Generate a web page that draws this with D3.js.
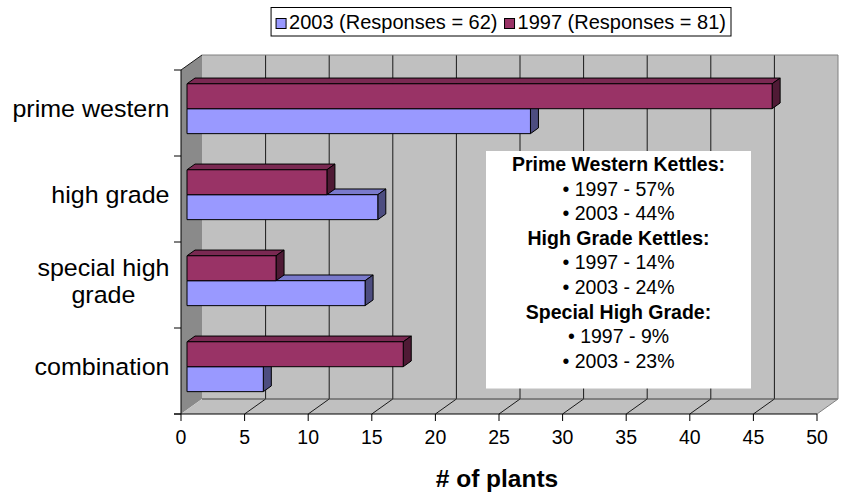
<!DOCTYPE html>
<html>
<head>
<meta charset="utf-8">
<script src="https://cdn.jsdelivr.net/npm/d3@7"></script>
<style>
  html, body { margin: 0; padding: 0; background: #fff; }
  svg { display: block; }
  text { font-family: "Liberation Sans", Arial, sans-serif; fill: #000; }
</style>
</head>
<body>
<div id="chart"></div>
<script>
// Kettle types used by plants, two survey years
const categories = ["prime western", "high grade", "special high grade", "combination"];
const categoryLines = [["prime western"], ["high grade"], ["special high", "grade"], ["combination"]];
const seriesNames = ["2003 (Responses = 62)", "1997 (Responses = 81)"];
const values2003 = [27, 15, 14, 6];
const values1997 = [46, 11, 7, 17];
const xTicks = [0, 5, 10, 15, 20, 25, 30, 35, 40, 45, 50];
const noteLines = [
  { text: "Prime Western Kettles:", bold: true },
  { text: "• 1997 - 57%", bold: false },
  { text: "• 2003 - 44%", bold: false },
  { text: "High Grade Kettles:", bold: true },
  { text: "• 1997 - 14%", bold: false },
  { text: "• 2003 - 24%", bold: false },
  { text: "Special High Grade:", bold: true },
  { text: "• 1997 - 9%", bold: false },
  { text: "• 2003 - 23%", bold: false }
];

const W = 844, H = 494;
const svg = d3.select("#chart").append("svg").attr("width", W).attr("height", H);

// front plane of the 3-D box
const x = d3.scaleLinear().domain([0, 50]).range([181, 817]);
const yTop = 70, yBot = 414;
const y = d3.scaleBand().domain(categories).range([yTop, yBot]).paddingInner(0.42).paddingOuter(0.21);
const ySub = d3.scaleBand().domain(["1997", "2003"]).range([0, y.bandwidth()]);

// depth offset of the back plane
const DX = 21, DY = -15;
const P = (v, yy, d) => [x(v) + d * DX, yy + d * DY];
const poly = pts => "M" + pts.map(p => p.join(",")).join("L") + "Z";
const line = (a, b) => "M" + a.join(",") + "L" + b.join(",");

const xMax = 50;

// side wall
svg.append("path")
  .attr("d", poly([P(0, yTop, 0), P(0, yTop, 1), P(0, yBot, 1), P(0, yBot, 0)]))
  .attr("fill", "#8a8a8a");
// back wall
svg.append("path")
  .attr("d", poly([P(0, yTop, 1), P(xMax, yTop, 1), P(xMax, yBot, 1), P(0, yBot, 1)]))
  .attr("fill", "#c0c0c0");
// floor
svg.append("path")
  .attr("d", poly([P(0, yBot, 0), P(xMax, yBot, 0), P(xMax, yBot, 1), P(0, yBot, 1)]))
  .attr("fill", "#c0c0c0");

// gridlines on back wall and floor
const grid = svg.append("g").attr("fill", "none");
xTicks.filter(t => t > 0 && t < xMax).forEach(t => {
  grid.append("path").attr("d", line(P(t, yTop, 1), P(t, yBot, 1))).attr("stroke", "#1a1a1a").attr("stroke-width", 1);
  grid.append("path").attr("d", line(P(t, yBot, 0), P(t, yBot, 1))).attr("stroke", "#1a1a1a").attr("stroke-width", 1);
});
grid.append("path").attr("d", line(P(0, yBot, 1), P(xMax, yBot, 1))).attr("stroke", "#404040");
// outer edges
grid.append("path").attr("d", line(P(0, yTop, 1), P(xMax, yTop, 1))).attr("stroke", "#808080");
grid.append("path").attr("d", line(P(xMax, yTop, 1), P(xMax, yBot, 1))).attr("stroke", "#808080");
grid.append("path").attr("d", line(P(xMax, yBot, 0), P(xMax, yBot, 1))).attr("stroke", "#808080");
grid.append("path").attr("d", line(P(0, yTop, 0), P(0, yTop, 1))).attr("stroke", "#1a1a1a");

// note box
const box = svg.append("g");
box.append("rect").attr("x", 486).attr("y", 151).attr("width", 265).attr("height", 237.5).attr("fill", "#fff");
box.selectAll("text").data(noteLines).join("text")
  .attr("x", 618.5)
  .attr("y", (d, i) => 171 + i * 24.6)
  .attr("text-anchor", "middle")
  .style("font-size", "19.5px")
  .style("font-weight", d => d.bold ? "bold" : "normal")
  .text(d => d.text);

// bars
const f0 = 0.286, f1 = 0.667;
const colors = {
  "1997": { front: "#993366", top: "#7a2952", side: "#4f1a35" },
  "2003": { front: "#9999ff", top: "#7a7acc", side: "#4d4d80" }
};
const barData = [];
categories.slice().reverse().forEach(c => {
  const i = categories.indexOf(c);
  barData.push({ cat: c, s: "2003", v: values2003[i] });
  barData.push({ cat: c, s: "1997", v: values1997[i] });
});
const bars = svg.append("g").attr("stroke", "#000").attr("stroke-width", 1).attr("stroke-linejoin", "round");
barData.forEach(b => {
  const t = y(b.cat) + ySub(b.s), bt = t + ySub.bandwidth();
  const g = bars.append("g");
  g.append("path").attr("d", poly([P(0, t, f0), P(b.v, t, f0), P(b.v, t, f1), P(0, t, f1)])).attr("fill", colors[b.s].top);
  g.append("path").attr("d", poly([P(b.v, t, f0), P(b.v, t, f1), P(b.v, bt, f1), P(b.v, bt, f0)])).attr("fill", colors[b.s].side);
  g.append("path").attr("d", poly([P(0, t, f0), P(b.v, t, f0), P(b.v, bt, f0), P(0, bt, f0)])).attr("fill", colors[b.s].front);
});

// axes
const axes = svg.append("g").attr("stroke", "#000").attr("fill", "none");
axes.append("path").attr("d", line([x(0), yTop], [x(0), yBot]));
axes.append("path").attr("d", line([x(0) - 7, yBot], [x(xMax), yBot]));
[yTop].concat(categories.map(c => y(c) - y.step() * y.paddingInner() / 2 + y.step()))
  .forEach(v => axes.append("path").attr("d", line([x(0) - 7, v], [x(0), v])));
xTicks.forEach(t => axes.append("path").attr("d", line([x(t), yBot], [x(t), yBot + 7])));

svg.append("g").selectAll("text").data(xTicks).join("text")
  .attr("x", d => x(d)).attr("y", 444)
  .attr("text-anchor", "middle")
  .style("font-size", "19.5px")
  .text(d => d);

// category labels: block right-aligned against the axis, lines centred
const catG = svg.append("g");
categories.forEach((c, i) => {
  const lines = categoryLines[i];
  const cy = y(c) + y.bandwidth() / 2 - 4;
  const tg = catG.append("g").attr("transform", "translate(169.5,0) scale(1.065,1)");
  const texts = lines.map((l, j) => tg.append("text")
    .attr("y", cy + 8.5 + (j - (lines.length - 1) / 2) * 27)
    .attr("text-anchor", "middle")
    .style("font-size", "23.5px")
    .text(l));
  const wMax = d3.max(texts, t => t.node().getComputedTextLength());
  texts.forEach(t => t.attr("x", -wMax / 2));
});

// axis title
svg.append("text").attr("x", 497).attr("y", 487)
  .attr("text-anchor", "middle")
  .style("font-size", "24.5px").style("font-weight", "bold")
  .text("# of plants");

// legend
const legendColors = [colors["2003"].front, colors["1997"].front];
const lg = svg.append("g");
const lgItems = lg.selectAll("g").data(seriesNames).join("g");
lgItems.append("rect").attr("width", 10).attr("height", 10).attr("y", 18.5)
  .attr("fill", (d, i) => legendColors[i]).attr("stroke", "#000");
lgItems.append("text").attr("x", 13).attr("y", 28.5).style("font-size", "20px").text(d => d);
let lx = 0;
const itemW = [];
lgItems.each(function () { itemW.push(this.getBBox().width); });
const legendRight = 731, pad = 5, gap = 7;
const total = d3.sum(itemW) + gap * (itemW.length - 1);
lx = legendRight - pad - total;
lgItems.attr("transform", (d, i) => {
  const tx = lx; lx += itemW[i] + gap; return `translate(${tx},0)`;
});
lg.insert("rect", ":first-child")
  .attr("x", legendRight - total - 2 * pad).attr("y", 7.5)
  .attr("width", total + 2 * pad).attr("height", 28.5)
  .attr("fill", "#fff").attr("stroke", "#000");
</script>
</body>
</html>
